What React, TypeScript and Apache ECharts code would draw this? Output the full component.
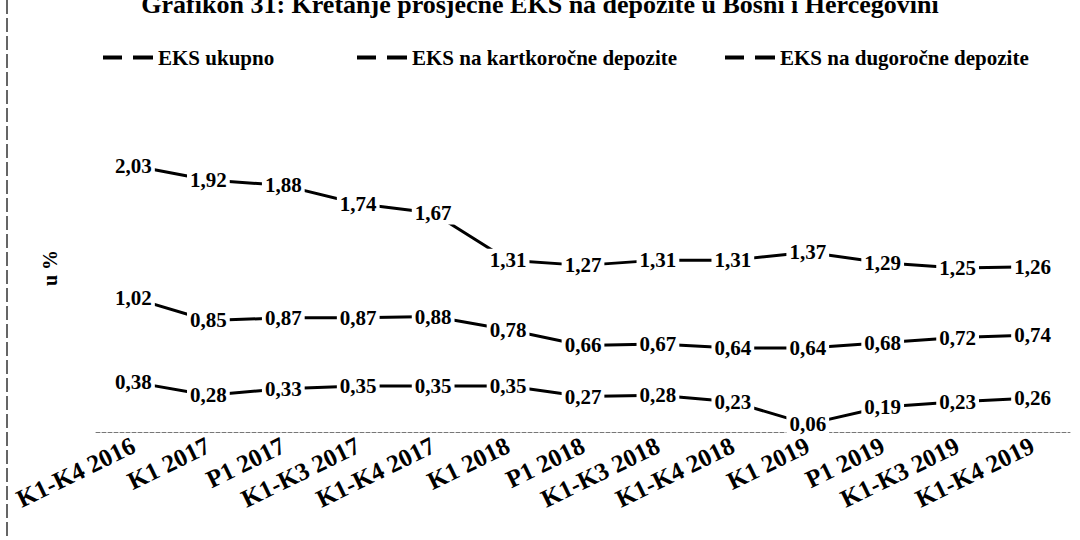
import React, { useEffect, useRef } from "react";
import * as echarts from "echarts";

const titleText = "Grafikon 31: Kretanje prosječne EKS na depozite u Bosni i Hercegovini";
const yAxisName = "u %";
const categories = [
  "K1-K4 2016", "K1 2017", "P1 2017", "K1-K3 2017", "K1-K4 2017", "K1 2018", "P1 2018",
  "K1-K3 2018", "K1-K4 2018", "K1 2019", "P1 2019", "K1-K3 2019", "K1-K4 2019",
];
const seriesNames = ["EKS ukupno", "EKS na kartkoročne depozite", "EKS na dugoročne depozite"];
const ukupno = [2.03, 1.92, 1.88, 1.74, 1.67, 1.31, 1.27, 1.31, 1.31, 1.37, 1.29, 1.25, 1.26];
const kratkorocne = [1.02, 0.85, 0.87, 0.87, 0.88, 0.78, 0.66, 0.67, 0.64, 0.64, 0.68, 0.72, 0.74];
const dugorocne = [0.38, 0.28, 0.33, 0.35, 0.35, 0.35, 0.27, 0.28, 0.23, 0.06, 0.19, 0.23, 0.26];
const seriesData = [ukupno, kratkorocne, dugorocne];

const FONT = "'Liberation Serif', 'Times New Roman', serif";
const legendLefts = [103, 357, 725];

export default function App() {
  const ref = useRef<HTMLDivElement>(null);
  useEffect(() => {
    if (!ref.current) return;
    const chart = echarts.init(ref.current, undefined, { renderer: "svg" });
    const icon = "path://M0,0H19V4H0Z M30,0H50V4H30Z";
    chart.setOption({
      animation: false,
      backgroundColor: "#ffffff",
      title: {
        text: titleText,
        left: "center",
        top: -9,
        padding: 0,
        textStyle: { fontFamily: FONT, fontWeight: "bold", fontSize: 26, color: "#000" },
      },
      legend: seriesNames.map((n, i) => ({
        data: [n],
        left: legendLefts[i],
        top: 47,
        padding: 0,
        icon,
        itemWidth: 50,
        itemHeight: 4,
        textStyle: { fontFamily: FONT, fontWeight: "bold", fontSize: 21, color: "#000" },
      })),
      graphic: [
        {
          type: "line",
          shape: { x1: 7, y1: 0, x2: 7, y2: 540 },
          style: { stroke: "#333", lineWidth: 1.5, lineDash: [14, 4] },
        },
      ],
      grid: { left: 96, right: 10, top: 104, bottom: 108 },
      xAxis: {
        type: "category",
        data: categories,
        boundaryGap: true,
        axisLine: { show: true, lineStyle: { color: "#777", width: 1, type: "dashed" } },
        axisTick: { show: false },
        axisLabel: {
          interval: 0,
          rotate: 26,
          margin: 12,
          fontFamily: FONT,
          fontWeight: "bold",
          fontSize: 25,
          color: "#000",
        },
      },
      yAxis: {
        type: "value",
        min: 0,
        max: 2.5,
        axisLine: { show: false },
        axisTick: { show: false },
        axisLabel: { show: false },
        splitLine: { show: false },
        name: yAxisName,
        nameLocation: "middle",
        nameRotate: 90,
        nameGap: 36,
        nameTextStyle: { fontFamily: FONT, fontWeight: "bold", fontSize: 20, color: "#000" },
      },
      series: seriesNames.map((n, i) => ({
        name: n,
        type: "line",
        data: seriesData[i],
        symbol: "circle",
        symbolSize: 1,
        itemStyle: { color: "#000" },
        lineStyle: { color: "#000", width: 3 },
        label: {
          show: true,
          position: "inside",
          formatter: (p: any) => Number(p.value).toFixed(2).replace(".", ","),
          fontFamily: FONT,
          fontWeight: "bold",
          fontSize: 21,
          color: "#000",
          backgroundColor: "#fff",
          padding: [1, 3],
        },
      })),
    });
    return () => chart.dispose();
  }, []);
  return (
    <div
      ref={ref}
      style={{ position: "fixed", left: 0, top: 0, width: 1080, height: 540 }}
    />
  );
}
